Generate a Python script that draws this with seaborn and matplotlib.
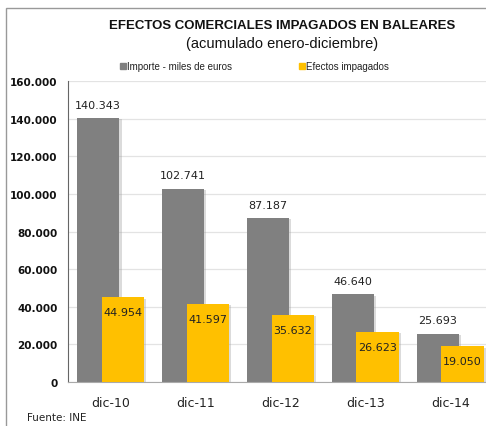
import pandas as pd
import matplotlib.pyplot as plt
import matplotlib.patheffects as pe
from matplotlib.patches import Rectangle
from matplotlib.ticker import FuncFormatter
import seaborn as sns

periodos = ["dic-10", "dic-11", "dic-12", "dic-13", "dic-14"]
importe = [140343, 102741, 87187, 46640, 25693]
efectos = [44954, 41597, 35632, 26623, 19050]

GRIS = "#808080"
AMARILLO = "#FFC000"

df = pd.DataFrame({"periodo": periodos, "importe": importe, "efectos": efectos})

sns.set_style("white")
plt.rcParams["font.family"] = ["DejaVu Sans"]

fig = plt.figure(figsize=(4.86, 4.27), dpi=100)
ax = fig.add_axes([0.140, 0.103, 0.874, 0.705])

sombra = [pe.SimplePatchShadow(offset=(1.5, -1), shadow_rgbFace="#9a9a9a", alpha=0.35), pe.Normal()]

# gray bars (behind), then yellow bars (front), shifted apart
sns.barplot(data=df, x="periodo", y="importe", color=GRIS, width=0.5, saturation=1,
            linewidth=0, ax=ax, zorder=2)
n = len(ax.patches)
for p in ax.patches:
    p.set_x(p.get_x() - 0.145)
    p.set_path_effects(sombra)
sns.barplot(data=df, x="periodo", y="efectos", color=AMARILLO, width=0.5, saturation=1,
            linewidth=0, ax=ax, zorder=3)
for p in ax.patches[n:]:
    p.set_x(p.get_x() + 0.145)
    p.set_path_effects(sombra)

fmt = lambda v: f"{v:,.0f}".replace(",", ".")

for p, v in zip(ax.patches[:n], importe):
    ax.text(p.get_x() + p.get_width() / 2, v + 4500, fmt(v), ha="center", va="bottom",
            fontsize=8, color="#222222", zorder=5)
for p, v in zip(ax.patches[n:], efectos):
    ax.text(p.get_x() + p.get_width() / 2, v - 8000, fmt(v), ha="center", va="center",
            fontsize=8, color="#222222", zorder=5)

ax.set_ylim(0, 160000)
ax.set_xlim(-0.5, 4.5)
ax.set_yticks(range(0, 160001, 20000))
ax.yaxis.set_major_formatter(FuncFormatter(lambda v, _: fmt(v)))
ax.grid(axis="y", color="#e3e3e3", linewidth=0.9, zorder=0)
ax.set_axisbelow(True)
ax.set_xlabel("")
ax.set_ylabel("")

ax.set_xticks([i + 0.5 for i in range(-1, 5)], minor=True)
ax.tick_params(axis="x", which="major", length=0, pad=10, labelsize=9, labelcolor="#222222")
ax.tick_params(axis="x", which="minor", length=4, color="#999999", width=0.8)
ax.tick_params(axis="y", length=4, color="#888888", width=0.8, labelsize=7.5, labelcolor="#111111")
for lbl in ax.get_yticklabels():
    lbl.set_fontweight("bold")

for s in ["top", "right"]:
    ax.spines[s].set_visible(False)
ax.spines["left"].set_color("#666666")
ax.spines["bottom"].set_color("#aaaaaa")

# title and legend
fig.text(0.58, 0.94, "EFECTOS COMERCIALES IMPAGADOS EN BALEARES", ha="center", va="center",
         fontsize=9.5, fontweight="bold", family=["Liberation Sans", "DejaVu Sans"], color="#111111")
fig.text(0.58, 0.897, "(acumulado enero-diciembre)", ha="center", va="center",
         fontsize=10.5, family=["Liberation Sans", "DejaVu Sans"], color="#111111")

fig.patches.append(Rectangle((0.247, 0.837), 0.012, 0.014, transform=fig.transFigure, color=GRIS))
fig.text(0.262, 0.844, "Importe - miles de euros", ha="left", va="center", fontsize=7,
         family=["Liberation Sans", "DejaVu Sans"], color="#222222")
fig.patches.append(Rectangle((0.615, 0.837), 0.012, 0.014, transform=fig.transFigure, color=AMARILLO))
fig.text(0.630, 0.844, "Efectos impagados", ha="left", va="center", fontsize=7,
         family=["Liberation Sans", "DejaVu Sans"], color="#222222")

fig.text(0.056, 0.021, "Fuente: INE", ha="left", va="center", fontsize=7.5, color="#222222")

# chart frame
fig.patches.append(Rectangle((0.013, -0.1), 1.2, 0.079 + 1.0, transform=fig.transFigure,
                             fill=False, edgecolor="#999999", linewidth=1))

fig.savefig("out.png", dpi=100)
